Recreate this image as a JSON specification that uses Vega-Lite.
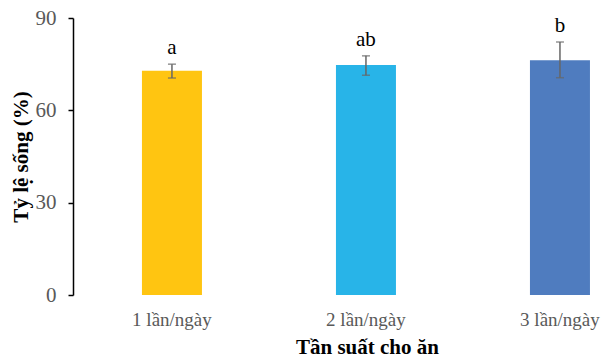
{
  "$schema": "https://vega.github.io/schema/vega-lite/v6.json",
  "autosize": {"type": "none"},
  "padding": {"left": 73, "top": 18, "right": 0, "bottom": 63},
  "width": 530,
  "height": 277,
  "background": "white",
  "config": {
    "view": {"stroke": null},
    "font": "Liberation Serif"
  },
  "data": {
    "values": [
      {"group": "1 lần/ngày", "mean": 72.9, "lo": 70.5, "hi": 75.0, "sig": "a"},
      {"group": "2 lần/ngày", "mean": 74.7, "lo": 71.4, "hi": 77.7, "sig": "ab"},
      {"group": "3 lần/ngày", "mean": 76.3, "lo": 70.6, "hi": 82.2, "sig": "b"}
    ]
  },
  "encoding": {
    "x": {
      "field": "group",
      "type": "nominal",
      "sort": null,
      "scale": {"paddingInner": 0.6907, "paddingOuter": 0.2113, "align": 0.841},
      "axis": {
        "title": "Tần suất cho ăn",
        "titleFont": "Liberation Serif",
        "titleFontSize": 21,
        "titleFontWeight": "bold",
        "titleColor": "#000000",
        "titleX": 294,
        "titleY": 58,
        "titleAlign": "center",
        "titleBaseline": "alphabetic",
        "domain": false,
        "ticks": false,
        "labelAngle": 0,
        "labelFont": "Liberation Serif",
        "labelFontSize": 19,
        "labelColor": "#595959",
        "labelBaseline": "alphabetic",
        "labelPadding": 30
      }
    }
  },
  "layer": [
    {
      "mark": {"type": "bar"},
      "encoding": {
        "y": {
          "field": "mean",
          "type": "quantitative",
          "scale": {"domain": [0, 90], "nice": false},
          "axis": {
            "title": "Tỷ lệ sống (%)",
            "titleFont": "Liberation Serif",
            "titleFontSize": 21,
            "titleFontWeight": "bold",
            "titleColor": "#000000",
            "titleAngle": -90,
            "titleX": -52,
            "titleY": 138.5,
            "titleAlign": "center",
            "titleBaseline": "middle",
            "values": [0, 30, 60, 90],
            "grid": false,
            "domain": true,
            "domainColor": "#000000",
            "domainWidth": 1.5,
            "ticks": true,
            "tickColor": "#000000",
            "tickSize": 5,
            "tickWidth": 1.5,
            "labelFont": "Liberation Serif",
            "labelFontSize": 21,
            "labelColor": "#595959",
            "labelPadding": 12
          }
        },
        "color": {
          "field": "group",
          "type": "nominal",
          "scale": {"range": ["#FFC511", "#28B4E8", "#4F7CBF"]},
          "legend": null
        }
      }
    },
    {
      "mark": {"type": "rule", "color": "#666666", "strokeWidth": 1.5},
      "encoding": {
        "y": {"field": "lo", "type": "quantitative"},
        "y2": {"field": "hi"}
      }
    },
    {
      "mark": {"type": "tick", "color": "#666666", "thickness": 1.5, "size": 8, "orient": "horizontal"},
      "encoding": {
        "y": {"field": "lo", "type": "quantitative"}
      }
    },
    {
      "mark": {"type": "tick", "color": "#666666", "thickness": 1.5, "size": 8, "orient": "horizontal"},
      "encoding": {
        "y": {"field": "hi", "type": "quantitative"}
      }
    },
    {
      "mark": {"type": "text", "font": "Liberation Serif", "fontSize": 21, "color": "#000000", "baseline": "alphabetic", "dy": -10},
      "encoding": {
        "y": {"field": "hi", "type": "quantitative"},
        "text": {"field": "sig"}
      }
    }
  ]
}
